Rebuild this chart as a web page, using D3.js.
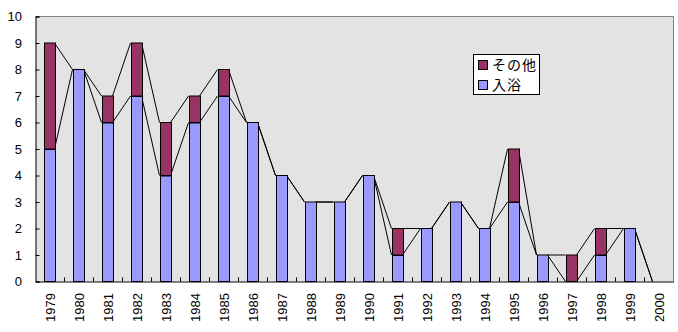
<!DOCTYPE html>
<html><head><meta charset="utf-8">
<script src="https://cdn.jsdelivr.net/npm/d3@7"></script>
<style>body{margin:0;background:#fff}svg{display:block}</style>
</head><body>
<svg id="c" width="678" height="332"></svg>
<script>
const years = ["1979","1980","1981","1982","1983","1984","1985","1986","1987","1988","1989","1990","1991","1992","1993","1994","1995","1996","1997","1998","1999","2000"];
const bath  = [5,8,6,7,4,6,7,6,4,3,3,4,1,2,3,2,3,1,0,1,2,0];
const other = [4,0,1,2,2,1,1,0,0,0,0,0,1,0,0,0,2,0,1,1,0,0];
const yTicks = [0,1,2,3,4,5,6,7,8,9,10];
const seriesNames = ["その他","入浴"];
const colors = {bath:"#9999ff", other:"#993366"};

const svg = d3.select("#c");
const L=35.5, R=673.5, T=16.5, B=281.5;
const x = d3.scaleBand().domain(years).range([L,R]).paddingInner(0).paddingOuter(0);
const y = d3.scaleLinear().domain([0,10]).range([B,T]);
const bw = 11, off = 8;

svg.append("rect").attr("x",L).attr("y",T).attr("width",R-L).attr("height",B-T).attr("fill","#e3e3e3");
// gray border top/right
svg.append("path").attr("d",`M${L},${T}H${R}V${B}`).attr("fill","none").attr("stroke","#808080");

const data = years.map((yr,i)=>({yr, b:bath[i], o:other[i], t:bath[i]+other[i]}));

// series lines
const lines = svg.append("g").attr("stroke","#000").attr("stroke-width",1).attr("fill","none");
for(let i=0;i<data.length-1;i++){
  const x1 = x(data[i].yr)+off+bw, x2 = x(data[i+1].yr)+off;
  lines.append("line").attr("x1",x1).attr("x2",x2).attr("y1",y(data[i].b)).attr("y2",y(data[i+1].b));
  lines.append("line").attr("x1",x1).attr("x2",x2).attr("y1",y(data[i].t)).attr("y2",y(data[i+1].t));
}

const g = svg.append("g");
data.forEach(d=>{
  const bx = Math.round(x(d.yr)+off)+0.5;
  if(d.b>0) g.append("rect").attr("x",bx).attr("y",y(d.b)).attr("width",bw).attr("height",y(0)-y(d.b)).attr("fill",colors.bath).attr("stroke","#000");
  else if(d.t>0) g.append("line").attr("x1",bx).attr("x2",bx+bw).attr("y1",y(0)-0.5).attr("y2",y(0)-0.5).attr("stroke","#000").attr("stroke-width",2);
  if(d.o>0) g.append("rect").attr("x",bx).attr("y",y(d.t)).attr("width",bw).attr("height",y(d.b)-y(d.t)).attr("fill",colors.other).attr("stroke","#000");
  if(d.o>0 && d.b>0) g.append("line").attr("x1",bx).attr("x2",bx+bw).attr("y1",y(d.b)+0.5).attr("y2",y(d.b)+0.5).attr("stroke","#000");
});

// axes
const font = "'Liberation Sans', Arial, sans-serif";
const yAxis = svg.append("g").attr("transform",`translate(${L},0)`)
  .call(d3.axisRight(y).tickValues(yTicks).tickSize(4).tickFormat(""));
yAxis.select(".domain").attr("stroke","#000");
svg.append("g").selectAll("text").data(yTicks).join("text")
  .attr("x",22).attr("y",d=>y(d)).attr("dy","0.36em").attr("text-anchor","end")
  .attr("font-family",font).attr("font-size",13).text(d=>d);

const xAxis = svg.append("g").attr("transform",`translate(0,${B})`)
  .call(d3.axisTop(x).tickSize(0).tickFormat(""));
xAxis.select(".domain").attr("stroke","#000");
svg.append("g").selectAll("line").data(years.slice(1)).join("line")
  .attr("x1",d=>x(d)).attr("x2",d=>x(d)).attr("y1",B).attr("y2",B-4).attr("stroke","#000");
svg.append("g").selectAll("text").data(years).join("text")
  .attr("transform",d=>`translate(${x(d)+x.bandwidth()/2+0.5},293) rotate(-90)`)
  .attr("text-anchor","end").attr("dy","0.36em")
  .attr("font-family",font).attr("font-size",13).text(d=>d);

// legend
const lg = svg.append("g");
lg.append("rect").attr("x",473.5).attr("y",54.5).attr("width",66).attr("height",40).attr("fill","#fff").attr("stroke","#000");
const items=[{n:seriesNames[0],c:colors.other},{n:seriesNames[1],c:colors.bath}];
items.forEach((it,i)=>{
  const cy = 65+i*20;
  lg.append("rect").attr("x",478.5).attr("y",cy-4.5).attr("width",9).attr("height",9).attr("fill",it.c).attr("stroke","#000");
  lg.append("text").attr("x",492).attr("y",cy).attr("dy","0.36em").attr("font-family","'Noto Sans CJK JP', sans-serif")
    .attr("font-size",14).attr("letter-spacing",1).text(it.n);
});
</script>
</body></html>
